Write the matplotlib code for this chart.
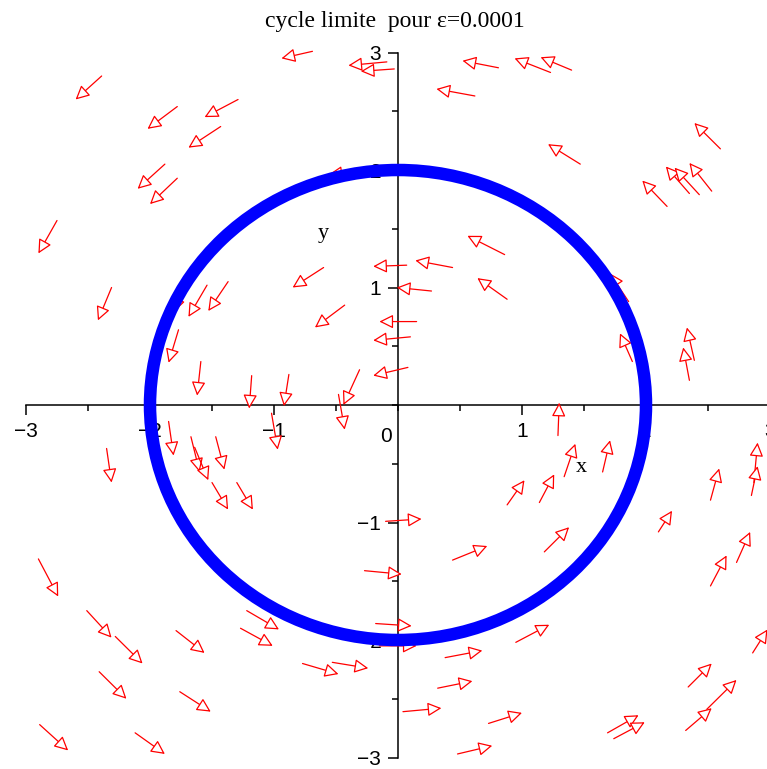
import matplotlib.pyplot as plt
from matplotlib.patches import Circle
from matplotlib.ticker import MultipleLocator

eps = 0.0001
radius = 2.0

# arrow tails (x0, y0) and heads (x1, y1)
x0 = [-2.39, -1.78, -1.29, -1.43, -1.88, -1.78, -2.75, -0.69, -0.09, -0.03,
      0.81, 0.62, -0.27, 0.86, 1.23, 1.40, 1.47, 2.60, 2.17, 2.35,
      2.43, 2.53, -2.31, -1.54, -1.37, -1.77, -1.72, -1.59, -1.18, -1.85,
      -2.35, -1.67, -1.64, -1.47, -1.50, -1.30, -0.60, -0.43, 0.07, 0.44,
      0.27, 0.88, 0.15, 0.10, 0.08, -0.31, -0.48, -0.88, -1.02, 1.86,
      1.89, 2.39, 2.35, 1.29, 1.34, 1.65, 1.14, 0.88, 2.52, 2.87,
      2.85, 2.10, 1.18, 2.73, 2.52, 0.95, 2.86, 2.34, 2.32, 2.49,
      1.69, 1.74, -2.90, -2.51, -2.28, -1.79, -2.41, -1.76, -2.89, -2.12,
      -1.22, -1.27, -0.10, -0.27, 0.44, -0.18, -0.15, -0.77, -0.53, 0.38,
      0.32, 0.04, 0.48, 0.73]
y0 = [2.80, 2.54, 2.60, 2.37, 2.05, 1.93, 1.57, 3.01, 2.92, 2.86,
      2.87, 2.63, 2.00, 1.28, 2.83, 2.85, 2.05, 2.18, 1.69, 1.80,
      1.79, 1.82, 1.00, 1.02, 1.05, 0.64, 1.04, 0.37, 0.25, -0.14,
      -0.37, -0.27, -0.36, -0.27, -0.66, -0.66, 1.17, 0.85, 1.19, 1.17,
      0.97, 0.90, 0.71, 0.58, 0.32, 0.30, 0.09, 0.26, -0.07, 0.88,
      0.37, 0.38, 0.21, -0.26, -0.61, -0.57, -0.83, -0.85, -0.81, -0.66,
      -0.77, -1.08, -1.25, -1.34, -1.54, -2.02, -2.11, -2.40, -2.77, -2.59,
      -2.79, -2.84, -1.31, -1.75, -1.97, -1.92, -2.27, -2.44, -2.72, -2.79,
      -1.75, -1.90, -0.99, -1.41, -1.32, -1.86, -2.05, -2.20, -2.19, -2.15,
      -2.41, -2.61, -2.97, -2.71]
x1 = [-2.60, -2.02, -1.56, -1.69, -2.10, -2.00, -2.90, -0.94, -0.40, -0.30,
      0.52, 0.31, -0.56, 0.56, 0.94, 1.15, 1.21, 2.39, 1.97, 2.16,
      2.23, 2.35, -2.42, -1.69, -1.53, -1.85, -1.81, -1.62, -1.20, -1.81,
      -2.31, -1.60, -1.53, -1.40, -1.37, -1.17, -0.85, -0.67, -0.20, 0.14,
      -0.01, 0.64, -0.15, -0.20, -0.20, -0.44, -0.43, -0.92, -0.97, 1.71,
      1.79, 2.33, 2.30, 1.30, 1.43, 1.71, 1.26, 1.02, 2.59, 2.90,
      2.90, 2.21, 1.38, 2.84, 2.65, 1.22, 2.98, 2.53, 2.53, 2.73,
      1.94, 1.99, -2.74, -2.31, -2.06, -1.56, -2.19, -1.51, -2.66, -1.88,
      -0.96, -1.01, 0.19, 0.03, 0.72, 0.11, 0.15, -0.48, -0.24, 0.68,
      0.60, 0.35, 0.76, 1.00]
y1 = [2.60, 2.35, 2.45, 2.19, 1.84, 1.71, 1.29, 2.95, 2.89, 2.84,
      2.93, 2.69, 1.96, 1.44, 2.95, 2.96, 2.22, 2.40, 1.91, 2.03,
      2.02, 2.06, 0.72, 0.75, 0.80, 0.36, 0.79, 0.08, -0.03, -0.43,
      -0.66, -0.57, -0.64, -0.55, -0.89, -0.89, 1.00, 0.66, 1.18, 1.23,
      1.00, 1.08, 0.71, 0.55, 0.25, 0.00, -0.21, -0.01, -0.38, 1.12,
      0.61, 0.66, 0.49, 0.02, -0.33, -0.30, -0.59, -0.64, -0.54, -0.32,
      -0.52, -0.90, -1.04, -1.08, -1.28, -1.87, -1.91, -2.20, -2.58, -2.34,
      -2.64, -2.70, -1.63, -1.98, -2.20, -2.11, -2.50, -2.61, -2.94, -2.97,
      -1.91, -2.05, -0.97, -1.44, -1.20, -1.88, -2.05, -2.29, -2.24, -2.09,
      -2.35, -2.58, -2.90, -2.62]

ticks = [-3, -2, -1, 1, 2, 3]
tick_labels = ['\u22123', '\u22122', '\u22121', '1', '2', '3']

fig = plt.figure(figsize=(7.67, 7.69), dpi=100)
ax = fig.add_axes([26 / 767, 11.5 / 769, 744 / 767, 705 / 769])
ax.set_xlim(-3, 3)
ax.set_ylim(-3, 3)

for s in ['top', 'right']:
    ax.spines[s].set_visible(False)
for s in ['left', 'bottom']:
    ax.spines[s].set_position('zero')
    ax.spines[s].set_linewidth(1.1)

ax.set_xticks(ticks)
ax.set_xticklabels(tick_labels)
ax.set_yticks(ticks)
ax.set_yticklabels(tick_labels)
ax.xaxis.set_minor_locator(MultipleLocator(0.5))
ax.yaxis.set_minor_locator(MultipleLocator(0.5))
ax.tick_params(which='major', direction='out', length=7, width=1.1,
               labelsize=15, pad=5)
ax.tick_params(which='minor', direction='out', length=4, width=1.1)
for lab in ax.get_xticklabels() + ax.get_yticklabels():
    lab.set_family('Liberation Sans')
ax.text(-0.1, -0.27, '0', ha='center', va='center', fontsize=15,
        family='Liberation Sans')

for a, b, c, d in zip(x0, y0, x1, y1):
    ax.annotate('', xy=(c, d), xytext=(a, b),
                arrowprops=dict(arrowstyle='-|>,head_length=0.7,head_width=0.35',
                                mutation_scale=12, fc='white', ec='red',
                                lw=0.9, shrinkA=0, shrinkB=0),
                annotation_clip=False, zorder=3)

ax.add_patch(Circle((0, 0), radius, fill=False, ec='blue', lw=9, zorder=6))

ax.text(-0.6, 1.46, 'y', ha='center', va='center', fontsize=16,
        family='Liberation Serif')
ax.text(1.48, -0.53, 'x', ha='center', va='center', fontsize=16,
        family='Liberation Serif')

fig.text(395 / 767, 1 - 21 / 769, 'cycle limite  pour \u03b5=%s' % eps,
         ha='center', va='center', fontsize=17, family='Liberation Serif')

fig.savefig('out.png', dpi=100)
